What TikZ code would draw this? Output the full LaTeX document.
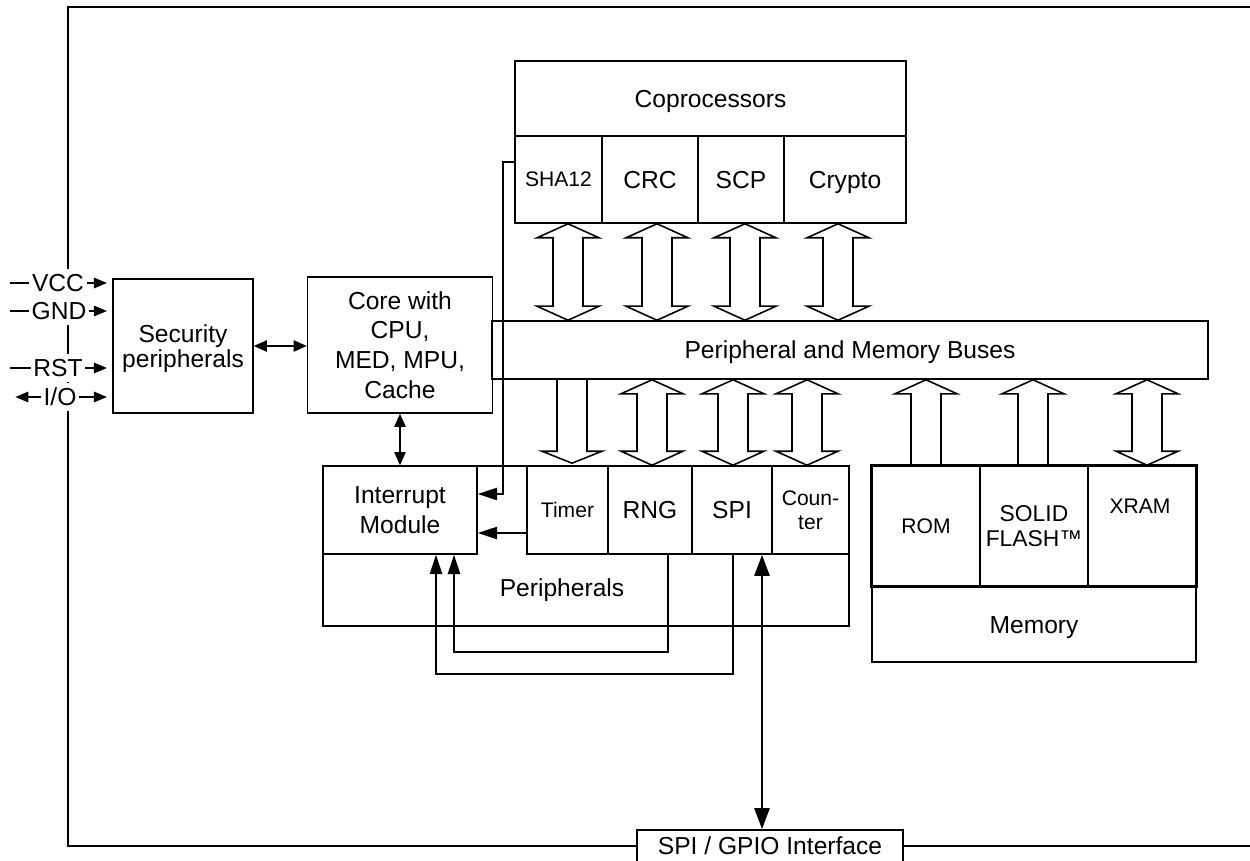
\documentclass[tikz,border=0pt]{standalone}
\usepackage{fontspec}
\setmainfont{Liberation Sans}
\usetikzlibrary{arrows.meta,calc}

\newcommand{\bothway}[3]{%
  \coordinate (bt) at (#1,0 |- #2.south);
  \coordinate (bb) at (#1,0 |- #3.north);
  \draw[hollow] (bt) -- ++(31,14) -- ++(-16,0) -- ($(bb)+(15,-14)$) -- ++(16,0) -- (bb)
    -- ++(-31,-14) -- ++(16,0) -- ($(bt)+(-15,14)$) -- ++(-16,0) -- cycle;}
\newcommand{\upway}[3]{%
  \coordinate (bt) at (#1,0 |- #2.south);
  \coordinate (bb) at (#1,0 |- #3.north);
  \draw[hollow] (bt) -- ++(31,14) -- ++(-16,0) -- ($(bb)+(15,0)$) -- ($(bb)+(-15,0)$)
    -- ($(bt)+(-15,14)$) -- ++(-16,0) -- cycle;}
\newcommand{\downway}[3]{%
  \coordinate (bt) at (#1,0 |- #2.south);
  \coordinate (bb) at (#1,0 |- #3.north);
  \draw[hollow] ($(bt)+(15,0)$) -- ($(bb)+(15,-14)$) -- ++(15,0) -- ($(bb)+(0,-2)$)
    -- ++(-30,-12) -- ++(15,0) -- ($(bt)+(-15,0)$);}

\begin{document}
\begin{tikzpicture}[x=0.02cm, y=-0.02cm, line width=0.9pt,
    sz/.style 2 args={minimum width=#1*0.02cm, minimum height=#2*0.02cm},
    box/.style={draw, rectangle, inner sep=0pt, align=center, text depth=0pt,
      font=\fontsize{14}{17}\selectfont},
    small/.style={font=\fontsize{12}{14}\selectfont},
    txt/.style={inner sep=0pt, align=center, text depth=0pt, font=\fontsize{14}{17}\selectfont},
    pinlbl/.style={fill=white, inner xsep=1pt, inner ysep=0pt, minimum height=28*0.02cm,
      font=\fontsize{14}{17}\selectfont},
    hollow/.style={draw, line join=miter},
    pinwire/.style={shorten >=3pt, -{Triangle[length=7.5pt,width=6pt]}},
    twoway/.style={{Triangle[length=7.5pt,width=6.5pt]}-{Triangle[length=7.5pt,width=6.5pt]}},
    irq/.style={-{Triangle[length=11pt,width=7pt]}},
    iobus/.style={line width=1.6pt, {Triangle[length=12pt,width=8.5pt]}-{Triangle[length=12pt,width=8.5pt]}}]
  \useasboundingbox (0,0) rectangle (1250,861);

  \draw[line width=1pt] (1250,7) -- (68,7) -- (68,846) -- (1250,846);

  \node[box, sz={391}{75}] (cop) at (710.5,98.5) {Coprocessors};
  \node[box, small, sz={87}{87}] (sha) at (558.5,179.5) {SHA12};
  \node[box, sz={96}{87}] (crc) at (650,179.5) {CRC};
  \node[box, sz={86}{87}] (scp) at (741,179.5) {SCP};
  \node[box, sz={122}{87}] (crypto) at (845,179.5) {Crypto};

  \node[box, sz={140}{134}] (sec) at (183,346) {Security\\[-3pt]peripherals};
  \node[box, sz={185}{136}] (core) at (400,345) {Core with\\CPU,\\MED, MPU,\\Cache};
  \node[box, sz={716}{58}] (bus) at (850,350) {Peripheral and Memory Buses};

  \node[draw, sz={526}{160}] (peri) at (586,546) {};
  \node[txt] (perilbl) at (562,588) {Peripherals};
  \node[box, sz={154}{88}] (intr) at (400,510) {Interrupt\\Module};
  \node[box, small, sz={81}{88}] (timer) at (567.5,510) {Timer};
  \node[box, sz={84}{88}] (rng) at (650,510) {RNG};
  \node[box, sz={80}{88}] (spi) at (732,510) {SPI};
  \node[box, small, sz={77}{88}] (ctr) at (810.5,510) {Coun-\\ter};

  \node[draw, sz={324}{196}] (mem) at (1034,564) {};
  \node[txt] (memlbl) at (1034,625) {Memory};
  \node[box, small, sz={108}{120}] (rom) at (926,526) {ROM};
  \node[box, font=\fontsize{13}{14}\selectfont, sz={108}{120}] (flash) at (1034,526) {SOLID\\FLASH™};
  \node[box, sz={108}{120}] (xram) at (1142,526) {};
  \node[txt, small] (xramlbl) at (1140,506) {XRAM};
  \draw[line width=1.5pt] (rom.north west) rectangle (xram.south east);

  \node[box, fill=white, sz={266}{32}] (gpio) at (770,846) {SPI / GPIO Interface};

  \node[pinlbl] (vcc) at (58,283) {VCC};
  \node[pinlbl] (gnd) at (59,311) {GND};
  \node[pinlbl] (rst) at (58,368) {RST};
  \node[pinlbl] (io) at (60,397) {I/O};
  \coordinate (vccin) at (10,283);
  \coordinate (gndin) at (10,311);
  \coordinate (rstin) at (10,368);
  \coordinate (ioin) at (10,397);
  \draw (vccin) -- (vcc);
  \draw (gndin) -- (gnd);
  \draw (rstin) -- (rst);
  \draw[pinwire] (io) -- (ioin);
  \draw[pinwire] (vcc) -- (vcc -| sec.west);
  \draw[pinwire] (gnd) -- (gnd -| sec.west);
  \draw[pinwire] (rst) -- (rst -| sec.west);
  \draw[pinwire] (io) -- (io -| sec.west);

  \draw[twoway] (sec.east) -- (sec.east -| core.west);
  \draw[twoway] (core.south) -- (intr.north);

  \bothway{568}{sha}{bus}
  \bothway{657}{crc}{bus}
  \bothway{745}{scp}{bus}
  \bothway{838}{crypto}{bus}
  \downway{572}{bus}{timer}
  \bothway{652}{bus}{rng}
  \bothway{733}{bus}{spi}
  \bothway{807}{bus}{ctr}
  \upway{926}{bus}{rom}
  \upway{1033}{bus}{flash}
  \bothway{1147}{bus}{xram}

  \draw[irq] ($(sha.north west)+(0,27)$) -- ++(-11,0) |- ($(intr.east)+(0,-16)$);
  \draw[irq] ($(timer.west)+(0,23)$) -- ($(intr.east)+(0,23)$);
  \draw[irq] ($(rng.south)+(18,0)$) -- ++(0,97) -| ($(intr.south)+(54,0)$);
  \draw[irq] ($(spi.south)+(1,0)$) -- ++(0,119) -| ($(intr.south)+(36,0)$);

  \coordinate (spiio) at ($(spi.south)+(30,0)$);
  \draw[iobus] (spiio) -- (spiio |- gpio.north);
\end{tikzpicture}
\end{document}
